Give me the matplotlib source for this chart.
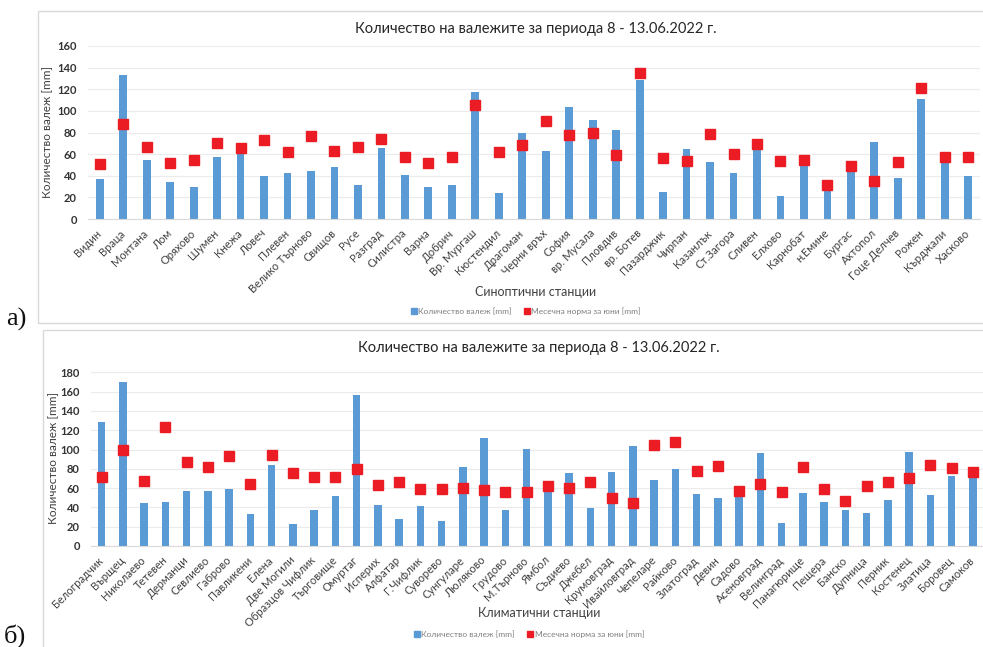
import matplotlib
matplotlib.use('Agg')
import matplotlib.pyplot as plt
from matplotlib.lines import Line2D
from matplotlib.patches import Rectangle
import numpy as np

plt.rcParams['font.family'] = ['Lato', 'DejaVu Sans']

title = 'Количество на валежите за периода 8 - 13.06.2022 г.'
ylab = 'Количество валеж [mm]'
leg_rain = 'Количество валеж [mm]'
leg_norm = 'Месечна норма за юни [mm]'

# синоптични станции
stations_a = ['Видин', 'Враца', 'Монтана', 'Лом', 'Оряхово', 'Шумен', 'Кнежа', 'Ловеч',
              'Плевен', 'Велико Търново', 'Свищов', 'Русе', 'Разград', 'Силистра', 'Варна',
              'Добрич', 'Вр. Мургаш', 'Кюстендил', 'Драгоман', 'Черни връх', 'София',
              'вр. Мусала', 'Пловдив', 'вр. Ботев', 'Пазарджик', 'Чирпан', 'Казанлък',
              'Ст.Загора', 'Сливен', 'Елхово', 'Карнобат', 'н.Емине', 'Бургас', 'Ахтопол',
              'Гоце Делчев', 'Рожен', 'Кърджали', 'Хасково']
rain_a = [37, 133, 55, 34, 30, 57, 60, 40, 43, 44, 48, 31, 66, 41, 30, 31, 117, 24, 80, 63,
          104, 92, 82, 129, 25, 65, 53, 43, 71, 21, 53, 27, 45, 71, 38, 111, 53, 40]
norm_a = [51, 88, 67, 52, 55, 70, 66, 73, 62, 77, 63, 67, 74, 57, 52, 57, 105, 62, 68, 91,
          78, 80, 59, 135, 56, 54, 79, 60, 69, 54, 55, 31, 49, 35, 53, 121, 57, 57]

# климатични станции
stations_b = ['Белоградчик', 'Върщец', 'Николаево', 'Тетевен', 'Дерманци', 'Севлиево',
              'Габрово', 'Павликени', 'Елена', 'Две Могили', 'Образцов Чифлик', 'Търговище',
              'Омуртаг', 'Исперих', 'Алфатар', 'Г.Чифлик', 'Суворево', 'Сунгуларе',
              'Люляково', 'Грудово', 'М.Търново', 'Ямбол', 'Съдиево', 'Джебел', 'Крумовград',
              'Ивайловград', 'Чепеларе', 'Райково', 'Златоград', 'Девин', 'Садово',
              'Асеновград', 'Велинград', 'Панагюрище', 'Пещера', 'Банско', 'Дупница',
              'Перник', 'Костенец', 'Златица', 'Боровец', 'Самоков']
rain_b = [128, 170, 45, 46, 57, 57, 59, 33, 84, 23, 37, 52, 156, 43, 28, 41, 26, 82, 112, 37,
          101, 56, 76, 39, 77, 104, 68, 80, 54, 50, 54, 96, 24, 55, 46, 37, 34, 48, 97, 53,
          73, 73]
norm_b = [71, 99, 67, 123, 87, 82, 93, 64, 94, 76, 71, 71, 80, 63, 66, 59, 59, 60, 58, 56,
          56, 62, 60, 66, 50, 45, 105, 108, 78, 83, 57, 64, 56, 82, 59, 47, 62, 66, 70, 84,
          81, 77]

W, H = 983, 647
fig = plt.figure(figsize=(W / 100, H / 100), dpi=100)

BLUE = '#5B9BD5'
RED = '#EC1C24'
GRID = '#EBEBEB'
TXT = '#404040'


def px(x, y):
    # pixel coords (top-left origin) -> figure fraction
    return x / W, 1 - y / H


def panel(rect, names, rain, norm, ymax, bw, frame, title_y, xt, xt_y, leg_y, ylab_xy):
    l, t, r, b = rect
    x0, y0 = px(l, b)
    x1, y1 = px(r, t)
    ax = fig.add_axes([x0, y0, x1 - x0, y1 - y0])
    idx = np.arange(len(names))
    ax.bar(idx, rain, width=bw, color=BLUE, zorder=2)
    ax.plot(idx, norm, 's', color=RED, markersize=6.7, zorder=3, linestyle='none')
    ax.set_xlim(-0.5, len(names) - 0.5)
    ax.set_ylim(0, ymax)
    ax.set_yticks(np.arange(0, ymax + 1, 20))
    ax.grid(axis='y', color=GRID, linewidth=0.8, zorder=0)
    for s in ['top', 'right', 'left']:
        ax.spines[s].set_visible(False)
    ax.spines['bottom'].set_color('#D9D9D9')
    ax.tick_params(axis='y', length=0, pad=8, labelsize=8, labelcolor='#333333')
    for lb in ax.get_yticklabels():
        lb.set_fontweight('bold')
    ax.set_xticks(idx)
    ax.set_xticklabels(names, rotation=45, ha='right', va='center',
                       rotation_mode='anchor', fontsize=8, color=TXT)
    ax.tick_params(axis='x', length=0, pad=9)

    fx, fy, fw, fh = frame
    fig.add_artist(Rectangle(px(fx, fy + fh), fw / W, fh / H, transform=fig.transFigure,
                             fill=False, edgecolor='#D9D9D9', linewidth=1.0))

    cx = (l + r) / 2 + 2
    fig.text(*px(cx, title_y), title, ha='center', va='center', fontsize=10.5, color='#262626')
    fig.text(*px(cx, xt_y), xt, ha='center', va='center', fontsize=9, color=TXT)
    fig.text(*px(*ylab_xy), ylab, ha='center', va='center', rotation=90,
             fontsize=8.5, color=TXT)

    handles = [Line2D([], [], marker='s', color=BLUE, linestyle='none', markersize=4),
               Line2D([], [], marker='s', color=RED, linestyle='none', markersize=4)]
    ax.legend(handles, [leg_rain, leg_norm], loc='center', ncol=2, frameon=False,
              bbox_to_anchor=px(cx - 10, leg_y), bbox_transform=fig.transFigure,
              fontsize=6, labelcolor='#7F7F7F', handlelength=0.6, handletextpad=0.2,
              columnspacing=1.6)
    return ax


panel((88, 46, 980, 219), stations_a, rain_a, norm_a, 160, 0.33,
      (38, 11, 960, 312), 29, 'Синоптични станции', 292, 311, (48, 132))
panel((91, 372.3, 983.5, 546), stations_b, rain_b, norm_b, 180, 0.35,
      (43, 330, 960, 340), 348, 'Климатични станции', 613, 634, (54, 458))

fig.text(*px(6, 326), 'а)', family=['Liberation Serif', 'DejaVu Serif'], fontsize=19,
         va='baseline', ha='left', color='#111111')
fig.text(*px(4, 643), 'б)', family=['Liberation Serif', 'DejaVu Serif'], fontsize=19,
         va='baseline', ha='left', color='#111111')

fig.savefig('out.png', dpi=100, facecolor='white')
